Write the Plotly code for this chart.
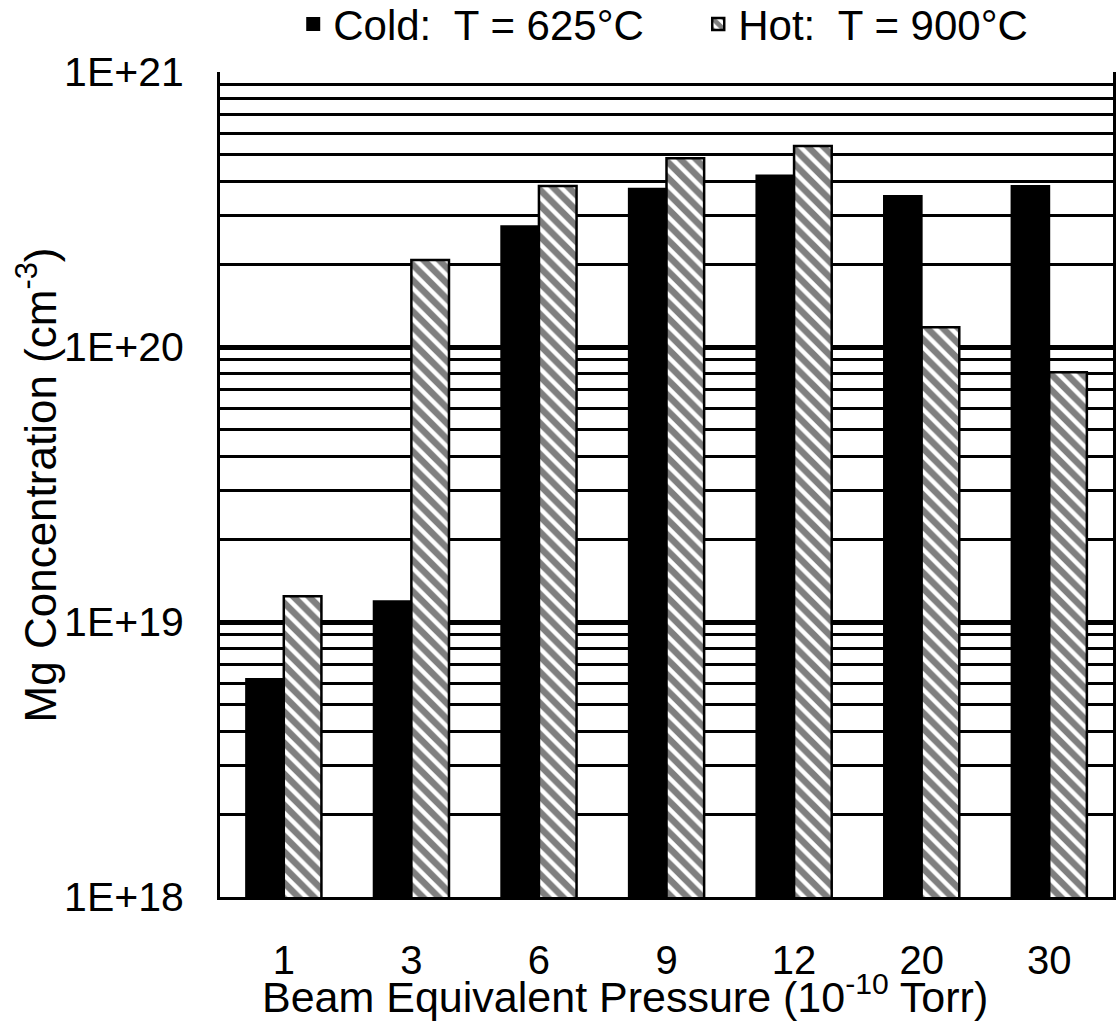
import plotly.graph_objects as go

categories = ["1", "3", "6", "9", "12", "20", "30"]
cold_values = [6.2e18, 1.19e19, 2.75e20, 3.76e20, 4.2e20, 3.54e20, 3.85e20]
hot_values = [1.24e19, 2.07e20, 3.85e20, 4.86e20, 5.38e20, 1.18e20, 8.1e19]
cold_name = "Cold:&nbsp; T = 625°C"
hot_name = "Hot:&nbsp; T = 900°C"
x_title = "Beam Equivalent Pressure (10<sup>-10</sup> Torr)"
y_title = "Mg Concentration (cm<sup>-3</sup>)"
y_tickvals = [1e18, 1e19, 1e20, 1e21]
y_ticktext = ["1E+18", "1E+19", "1E+20", "1E+21"]
minor_vals = [float(m) * 10.0 ** e for e in (18, 19, 20) for m in range(2, 10)]

FONT = "Liberation Sans, Arial, sans-serif"

fig = go.Figure()
fig.add_trace(go.Bar(
    x=categories, y=cold_values, name=cold_name,
    marker=dict(color="black", line=dict(color="black", width=2)),
))
fig.add_trace(go.Bar(
    x=categories, y=hot_values, name=hot_name,
    marker=dict(color="white", line=dict(color="black", width=2.5),
                pattern=dict(shape="\\", fgcolor="black", bgcolor="white",
                             size=11, solidity=0.6)),
))

fig.update_layout(
    width=1120, height=1022,
    margin=dict(l=220, r=7, t=72, b=125, autoexpand=False),
    paper_bgcolor="white", plot_bgcolor="white",
    font=dict(family=FONT, size=40, color="black"),
    barmode="group", bargap=0.41, bargroupgap=0,
    showlegend=True,
    legend=dict(orientation="h", x=0.082, xanchor="left", y=1.058, yanchor="middle",
                font=dict(size=42), bgcolor="rgba(0,0,0,0)", itemwidth=30,
                entrywidth=360, entrywidthmode="pixels",
                traceorder="normal"),
    annotations=[
        dict(text=x_title, xref="paper", yref="paper", x=0.4535, y=-0.118,
             xanchor="center", yanchor="middle", showarrow=False,
             font=dict(size=43)),
        dict(text=y_title, xref="paper", yref="paper", x=-0.205, y=0.5,
             xanchor="center", yanchor="middle", showarrow=False, textangle=-90,
             font=dict(size=44)),
    ],
)
fig.update_xaxes(
    type="category", showgrid=False, showline=True, linecolor="black", linewidth=3,
    ticks="", ticklabelstandoff=26, tickfont=dict(size=40),
)
fig.update_yaxes(
    type="log", range=[18, 21], tickmode="array", tickvals=y_tickvals, ticktext=y_ticktext,
    showgrid=True, gridcolor="black", gridwidth=5,
    showline=True, linecolor="black", linewidth=3, mirror=True,
    ticks="", ticklabelstandoff=25, tickfont=dict(size=41),
    zeroline=False,
    minor=dict(tickmode="array", tickvals=minor_vals, showgrid=True,
               gridcolor="black", gridwidth=3, ticks=""),
)

fig.write_html("out.html")
